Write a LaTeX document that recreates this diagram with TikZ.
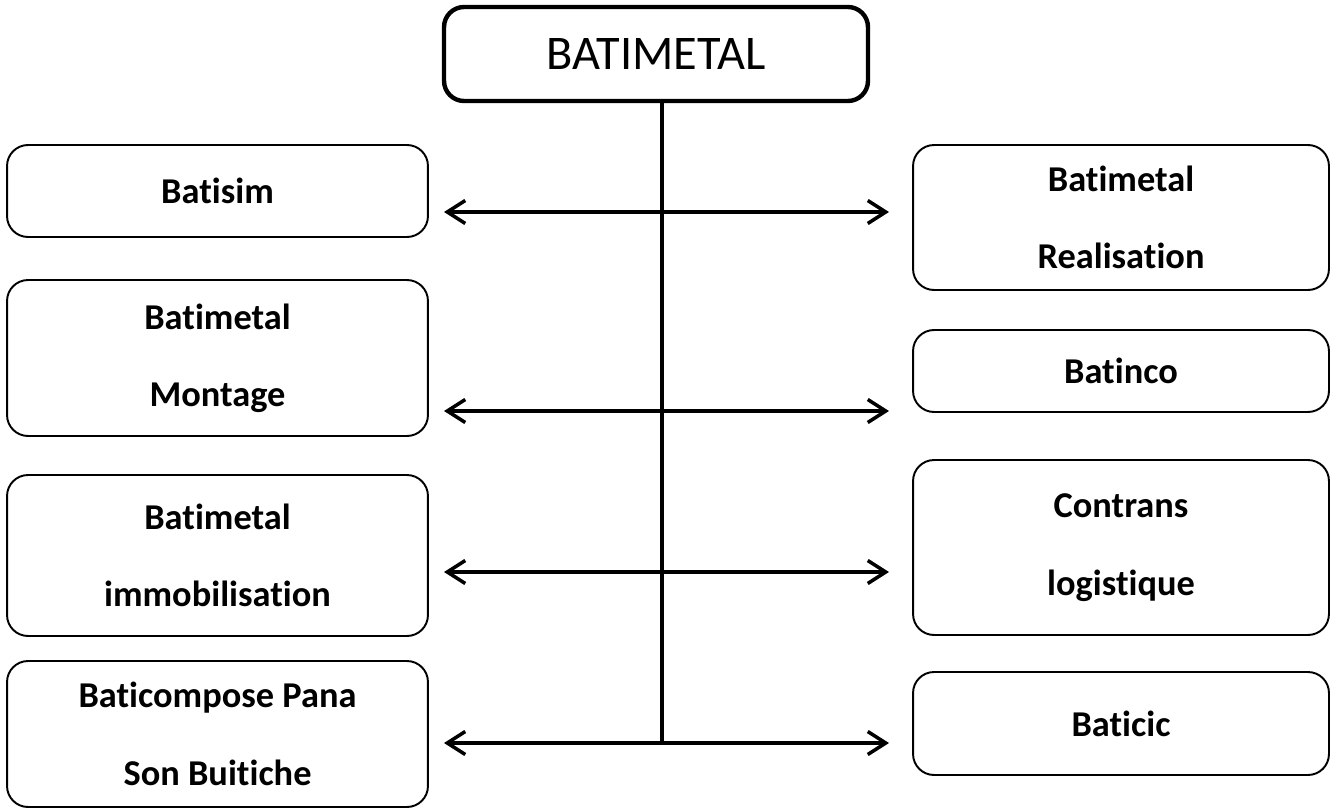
\documentclass[tikz,border=0pt]{standalone}
\usepackage{fontspec}
\setmainfont{Carlito}[RawFeature={-liga}]
\usepackage{xcolor}
\usetikzlibrary{arrows.meta, positioning}

\begin{document}
\begin{tikzpicture}[
        x=0.02cm, y=-0.02cm,
        >={Straight Barb[length=3.6mm, width=4.6mm, line width=2pt]},
        topbox/.style={rectangle, rounded corners=0.4cm, draw=black, line width=2.5pt, inner sep=0pt, minimum width=8.48cm, minimum height=1.88cm, font=\fontsize{27.5pt}{32pt}\selectfont},
        unit/.style={rectangle, rounded corners=0.42cm, draw=black, line width=1.1pt, inner sep=0pt, align=center, font=\bfseries\fontsize{20.7pt}{44pt}\selectfont},
        leftunit/.style={unit, minimum width=8.42cm},
        rightunit/.style={unit, minimum width=8.32cm},
        spine/.style={line width=2pt},
        arrow/.style={<->, line width=2pt}
    ]
        \useasboundingbox (0,0) rectangle (1331,811);

        \node[topbox] (groupe) at (656,54) {BATIMETAL};

        % filiales de gauche
        \node[leftunit, minimum height=1.84cm] (batisim) at (217.5,191) {Batisim};
        \node[leftunit, minimum height=3.12cm] (montage) at (217.5,358) {Batimetal\\Montage};
        \node[leftunit, minimum height=3.22cm] (immo) at (217.5,555.5) {Batimetal\\immobilisation};
        \node[leftunit, minimum height=2.92cm] (pana) at (217.5,734) {Baticompose Pana\\Son Buitiche};

        % filiales de droite
        \node[rightunit, minimum height=2.9cm] (realisation) at (1121,217.5) {Batimetal\\Realisation};
        \node[rightunit, minimum height=1.64cm] (batinco) at (1121,371) {Batinco};
        \node[rightunit, minimum height=3.5cm] (contrans) at (1121,547.5) {Contrans\\logistique};
        \node[rightunit, minimum height=2.06cm] (baticic) at (1121,723.5) {Baticic};

        % tronc et fleches
        \coordinate (j1) at (662,212);
        \coordinate (j4) at (662,743);
        \foreach \i/\yy in {1/212, 2/411, 3/572, 4/743} {
            \coordinate (l\i) at (444,\yy);
            \coordinate (r\i) at (889,\yy);
        }

        \draw[spine] (groupe.south -| j1) -- (j4);
        \draw[arrow] (l1) -- (r1);
        \draw[arrow] (l2) -- (r2);
        \draw[arrow] (l3) -- (r3);
        \draw[arrow] (l4) -- (r4);
    \end{tikzpicture}
\end{document}
